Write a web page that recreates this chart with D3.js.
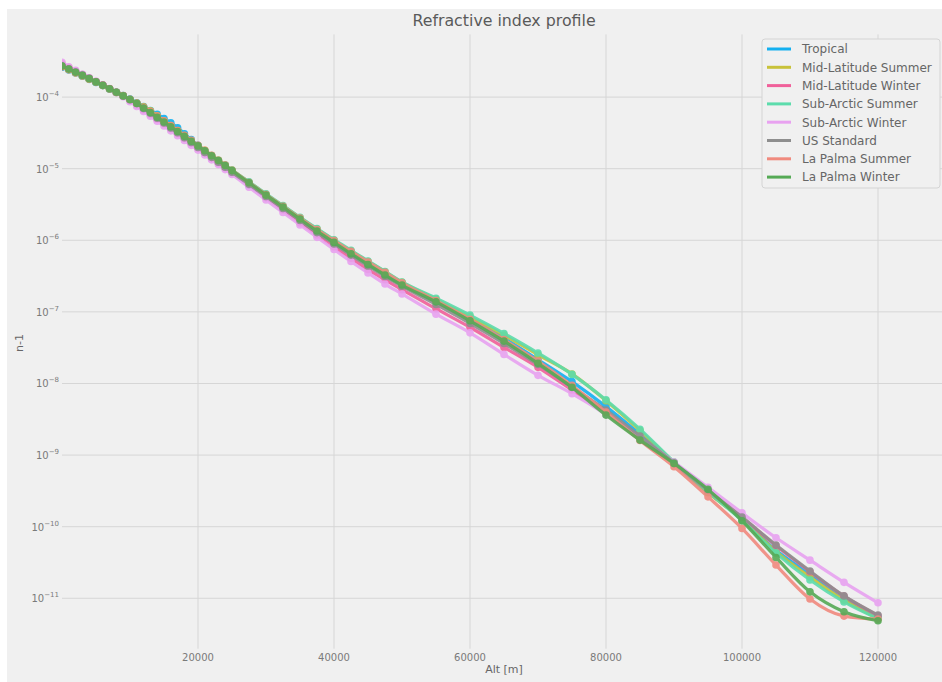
<!DOCTYPE html>
<html>
<head>
<meta charset="utf-8">
<script src="https://cdn.jsdelivr.net/npm/d3@7"></script>
<style>
  body { margin: 0; background: #fff; }
  svg { display: block; font-family: "DejaVu Sans", sans-serif; }
</style>
</head>
<body>
<svg id="chart" width="942" height="682"></svg>
<script>
// altitude grid [m]
const altitudes = [0, 1000, 2000, 3000, 4000, 5000, 6000, 7000, 8000, 9000,
  10000, 11000, 12000, 13000, 14000, 15000, 16000, 17000, 18000, 19000,
  20000, 21000, 22000, 23000, 24000, 25000,
  27500, 30000, 32500, 35000, 37500, 40000, 42500, 45000, 47500, 50000,
  55000, 60000, 65000, 70000, 75000, 80000, 85000, 90000, 95000, 100000,
  105000, 110000, 115000, 120000];

// n-1 per atmosphere model
const tropical = [2.62e-4, 2.39e-4, 2.17e-4, 1.96e-4, 1.77e-4, 1.60e-4, 1.45e-4, 1.30e-4, 1.17e-4, 1.05e-4,
  9.36e-5, 8.33e-5, 7.39e-5, 6.51e-5, 5.76e-5, 5.03e-5, 4.37e-5, 3.73e-5, 3.08e-5, 2.55e-5,
  2.12e-5, 1.77e-5, 1.48e-5, 1.25e-5, 1.06e-5, 9.02e-6,
  5.89e-6, 3.98e-6, 2.72e-6, 1.87e-6, 1.30e-6, 9.12e-7, 6.45e-7, 4.58e-7, 3.33e-7, 2.52e-7,
  1.40e-7, 7.86e-8, 4.29e-8, 2.15e-8, 1.06e-8, 4.75e-9, 1.95e-9, 7.6e-10, 3.0e-10, 1.28e-10,
  4.7e-11, 2.18e-11, 1.03e-11, 5.4e-12];
const midLatSummer = [2.67e-4, 2.42e-4, 2.18e-4, 1.97e-4, 1.78e-4, 1.61e-4, 1.45e-4, 1.30e-4, 1.16e-4, 1.04e-4,
  9.27e-5, 8.24e-5, 7.30e-5, 6.44e-5, 5.50e-5, 4.68e-5, 3.99e-5, 3.42e-5, 2.91e-5, 2.48e-5,
  2.11e-5, 1.80e-5, 1.53e-5, 1.31e-5, 1.12e-5, 9.55e-6,
  6.48e-6, 4.38e-6, 3.02e-6, 2.06e-6, 1.43e-6, 1.00e-6, 7.09e-7, 5.06e-7, 3.64e-7, 2.60e-7,
  1.50e-7, 8.6e-8, 4.75e-8, 2.52e-8, 1.36e-8, 5.75e-9, 2.2e-9, 7.9e-10, 3.0e-10, 1.26e-10,
  4.5e-11, 1.98e-11, 9.4e-12, 5.2e-12];
const midLatWinter = [2.90e-4, 2.59e-4, 2.31e-4, 2.06e-4, 1.85e-4, 1.65e-4, 1.47e-4, 1.31e-4, 1.16e-4, 1.03e-4,
  9.07e-5, 7.78e-5, 6.68e-5, 5.73e-5, 4.91e-5, 4.21e-5, 3.61e-5, 3.09e-5, 2.64e-5, 2.26e-5,
  1.94e-5, 1.65e-5, 1.41e-5, 1.20e-5, 1.03e-5, 8.76e-6,
  5.98e-6, 3.96e-6, 2.66e-6, 1.76e-6, 1.19e-6, 8.11e-7, 5.61e-7, 3.91e-7, 2.81e-7, 2.04e-7,
  1.11e-7, 6.1e-8, 3.19e-8, 1.68e-8, 8.1e-9, 3.9e-9, 1.75e-9, 7.6e-10, 3.2e-10, 1.35e-10,
  5.4e-11, 2.35e-11, 1.07e-11, 5.7e-12];
const subArcticSummer = [2.73e-4, 2.47e-4, 2.23e-4, 2.01e-4, 1.80e-4, 1.61e-4, 1.45e-4, 1.30e-4, 1.16e-4, 1.04e-4,
  9.30e-5, 8.06e-5, 6.96e-5, 6.00e-5, 5.20e-5, 4.48e-5, 3.86e-5, 3.30e-5, 2.83e-5, 2.42e-5,
  2.08e-5, 1.78e-5, 1.53e-5, 1.31e-5, 1.12e-5, 9.6e-6,
  6.55e-6, 4.45e-6, 3.06e-6, 2.10e-6, 1.46e-6, 1.02e-6, 7.25e-7, 5.15e-7, 3.67e-7, 2.62e-7,
  1.55e-7, 9.0e-8, 5.0e-8, 2.66e-8, 1.34e-8, 5.9e-9, 2.3e-9, 8.0e-10, 3.1e-10, 1.22e-10,
  4.3e-11, 1.8e-11, 8.9e-12, 5.2e-12];
const subArcticWinter = [3.06e-4, 2.66e-4, 2.36e-4, 2.09e-4, 1.86e-4, 1.66e-4, 1.48e-4, 1.32e-4, 1.16e-4, 1.01e-4,
  8.64e-5, 7.39e-5, 6.31e-5, 5.39e-5, 4.61e-5, 3.94e-5, 3.38e-5, 2.89e-5, 2.48e-5, 2.12e-5,
  1.82e-5, 1.55e-5, 1.33e-5, 1.14e-5, 9.71e-6, 8.29e-6,
  5.50e-6, 3.66e-6, 2.45e-6, 1.64e-6, 1.10e-6, 7.42e-7, 5.06e-7, 3.50e-7, 2.45e-7, 1.78e-7,
  9.3e-8, 5.1e-8, 2.55e-8, 1.3e-8, 7.2e-9, 3.7e-9, 1.78e-9, 8.0e-10, 3.55e-10, 1.56e-10,
  7.0e-11, 3.41e-11, 1.67e-11, 8.65e-12];
const usStandard = [2.73e-4, 2.48e-4, 2.24e-4, 2.03e-4, 1.83e-4, 1.64e-4, 1.47e-4, 1.31e-4, 1.17e-4, 1.04e-4,
  9.21e-5, 8.13e-5, 6.95e-5, 5.94e-5, 5.08e-5, 4.34e-5, 3.71e-5, 3.17e-5, 2.71e-5, 2.32e-5,
  1.98e-5, 1.69e-5, 1.44e-5, 1.23e-5, 1.05e-5, 8.93e-6,
  6.04e-6, 4.10e-6, 2.79e-6, 1.89e-6, 1.28e-6, 8.90e-7, 6.21e-7, 4.38e-7, 3.13e-7, 2.29e-7,
  1.27e-7, 6.91e-8, 3.63e-8, 1.84e-8, 8.90e-9, 4.25e-9, 1.84e-9, 7.8e-10, 3.2e-10, 1.36e-10,
  5.53e-11, 2.40e-11, 1.08e-11, 5.82e-12];
const laPalmaSummer = [2.66e-4, 2.42e-4, 2.19e-4, 1.98e-4, 1.79e-4, 1.62e-4, 1.46e-4, 1.31e-4, 1.17e-4, 1.05e-4,
  9.30e-5, 8.20e-5, 7.22e-5, 6.30e-5, 5.45e-5, 4.68e-5, 4.00e-5, 3.42e-5, 2.92e-5, 2.49e-5,
  2.12e-5, 1.81e-5, 1.54e-5, 1.31e-5, 1.12e-5, 9.5e-6,
  6.42e-6, 4.35e-6, 2.98e-6, 2.04e-6, 1.41e-6, 9.9e-7, 7.0e-7, 4.98e-7, 3.56e-7, 2.55e-7,
  1.44e-7, 7.9e-8, 4.1e-8, 2.05e-8, 9.4e-9, 3.98e-9, 1.6e-9, 6.87e-10, 2.61e-10, 9.46e-11,
  2.91e-11, 9.75e-12, 5.64e-12, 5.12e-12];
const laPalmaWinter = [2.71e-4, 2.46e-4, 2.22e-4, 2.01e-4, 1.81e-4, 1.63e-4, 1.46e-4, 1.31e-4, 1.17e-4, 1.04e-4,
  9.25e-5, 8.15e-5, 7.05e-5, 6.08e-5, 5.24e-5, 4.50e-5, 3.86e-5, 3.30e-5, 2.83e-5, 2.42e-5,
  2.08e-5, 1.78e-5, 1.52e-5, 1.30e-5, 1.11e-5, 9.4e-6,
  6.35e-6, 4.28e-6, 2.92e-6, 1.98e-6, 1.35e-6, 9.35e-7, 6.5e-7, 4.6e-7, 3.27e-7, 2.37e-7,
  1.38e-7, 7.51e-8, 3.91e-8, 1.91e-8, 8.83e-9, 3.62e-9, 1.62e-9, 7.64e-10, 3.32e-10, 1.21e-10,
  3.72e-11, 1.23e-11, 6.48e-12, 4.85e-12];

const seriesNames = ['Tropical', 'Mid-Latitude Summer', 'Mid-Latitude Winter', 'Sub-Arctic Summer',
  'Sub-Arctic Winter', 'US Standard', 'La Palma Summer', 'La Palma Winter'];
const seriesValues = [tropical, midLatSummer, midLatWinter, subArcticSummer,
  subArcticWinter, usStandard, laPalmaSummer, laPalmaWinter];
const seriesColors = ['#14b0f0', '#c8c23a', '#f0609a', '#5cdcac', '#e8a2f0', '#8e8e8e', '#f08a7e', '#55aa55'];

const xTicks = [20000, 40000, 60000, 80000, 100000, 120000];
const yTickExps = [-4, -5, -6, -7, -8, -9, -10, -11];

const plot = { left: 62, right: 946, top: 34.4, bottom: 648.7 };
const svg = d3.select('#chart');

// figure background
svg.append('rect')
  .attr('x', 7).attr('y', 9)
  .attr('width', 942 - 7).attr('height', 682 - 9)
  .attr('fill', '#f0f0f0');

const x = d3.scaleLinear().domain([0, 130000]).range([plot.left, plot.right]);

// log limits with 5% padding like matplotlib autoscale
const allVals = seriesValues.flat();
const lo = Math.log10(d3.min(allVals));
const hi = Math.log10(d3.max(allVals));
const pad = 0.05 * (hi - lo);
const y = d3.scaleLog()
  .domain([Math.pow(10, lo - pad), Math.pow(10, hi + pad)])
  .range([plot.bottom, plot.top]);

const grid = svg.append('g').attr('class', 'grid');
grid.selectAll('line.gx')
  .data(xTicks)
  .join('line')
  .attr('class', 'gx')
  .attr('x1', d => x(d)).attr('x2', d => x(d))
  .attr('y1', plot.top).attr('y2', plot.bottom)
  .attr('stroke', '#d6d6d6')
  .attr('stroke-width', 1);
grid.selectAll('line.gy')
  .data(yTickExps)
  .join('line')
  .attr('class', 'gy')
  .attr('x1', plot.left).attr('x2', plot.right)
  .attr('y1', d => y(Math.pow(10, d))).attr('y2', d => y(Math.pow(10, d)))
  .attr('stroke', '#d6d6d6')
  .attr('stroke-width', 1);

// tick labels
svg.append('g').selectAll('text')
  .data(xTicks)
  .join('text')
  .attr('x', d => x(d))
  .attr('y', 661)
  .attr('text-anchor', 'middle')
  .attr('font-size', 10)
  .attr('fill', '#7a7a7a')
  .text(d => d);

const yLabels = svg.append('g').selectAll('text')
  .data(yTickExps)
  .join('text')
  .attr('x', 59)
  .attr('y', d => y(Math.pow(10, d)) + 4)
  .attr('text-anchor', 'end')
  .attr('font-size', 10)
  .attr('fill', '#7a7a7a');
yLabels.append('tspan').text('10');
yLabels.append('tspan')
  .attr('dy', -5)
  .attr('font-size', 7)
  .text(d => '\u2212' + Math.abs(d));

// axis labels and title
svg.append('text')
  .attr('x', 504).attr('y', 673)
  .attr('text-anchor', 'middle')
  .attr('font-size', 11)
  .attr('fill', '#666')
  .text('Alt [m]');
svg.append('text')
  .attr('transform', 'translate(23,343) rotate(-90)')
  .attr('text-anchor', 'middle')
  .attr('font-size', 11)
  .attr('fill', '#666')
  .text('n-1');
svg.append('text')
  .attr('x', 504).attr('y', 26)
  .attr('text-anchor', 'middle')
  .attr('font-size', 15.8)
  .attr('fill', '#5a5a5a')
  .text('Refractive index profile');

// lines + markers
svg.append('clipPath').attr('id', 'clip')
  .append('rect')
  .attr('x', plot.left).attr('y', plot.top)
  .attr('width', plot.right - plot.left).attr('height', plot.bottom - plot.top);

const line = d3.line()
  .x(d => x(d[0]))
  .y(d => y(d[1]))
  .curve(d3.curveMonotoneX);

const series = seriesNames.map((name, i) => ({
  name,
  color: seriesColors[i],
  points: altitudes.map((a, j) => [a, seriesValues[i][j]])
}));

const marks = svg.append('g').attr('clip-path', 'url(#clip)');
const sg = marks.selectAll('g.series')
  .data(series)
  .join('g')
  .attr('class', 'series')
  .attr('opacity', 0.9);
sg.append('path')
  .attr('d', d => line(d.points))
  .attr('fill', 'none')
  .attr('stroke', d => d.color)
  .attr('stroke-width', 3.2);
sg.selectAll('circle')
  .data(d => d.points.map(p => ({ p, color: d.color })))
  .join('circle')
  .attr('cx', d => x(d.p[0]))
  .attr('cy', d => y(d.p[1]))
  .attr('r', 3.8)
  .attr('fill', d => d.color);

// legend
const legend = svg.append('g').attr('transform', 'translate(762,39)');
legend.append('rect')
  .attr('width', 178).attr('height', 149)
  .attr('rx', 3)
  .attr('fill', '#f0f0f0')
  .attr('stroke', '#d4d4d4')
  .attr('stroke-width', 1);
const items = legend.selectAll('g.item')
  .data(series)
  .join('g')
  .attr('class', 'item')
  .attr('transform', (d, i) => `translate(0,${10 + i * 18.3})`);
items.append('line')
  .attr('x1', 5).attr('x2', 29)
  .attr('stroke', d => d.color)
  .attr('stroke-width', 3);
items.append('text')
  .attr('x', 40).attr('y', 4.3)
  .attr('font-size', 12)
  .attr('fill', '#666')
  .text(d => d.name);
</script>
</body>
</html>
